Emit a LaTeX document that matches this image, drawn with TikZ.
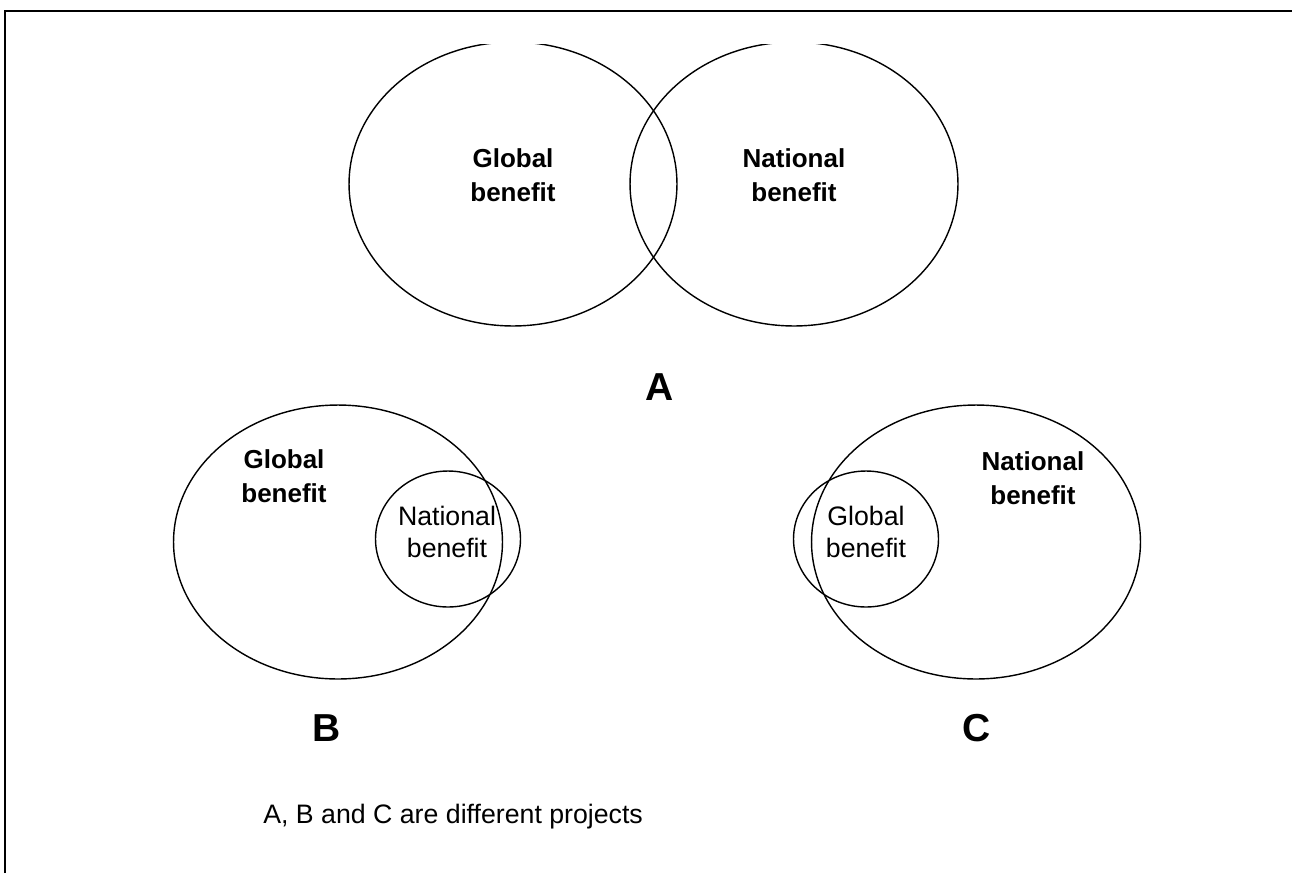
\documentclass[tikz,border=0pt]{standalone}
\usepackage{fontspec}
\setmainfont{Liberation Sans}
\usetikzlibrary{shapes.geometric}
\begin{document}
\begin{tikzpicture}
    [
    x=0.02cm, y=-0.02cm,
    benefit/.style={ellipse,draw,line width=0.8pt,inner sep=0pt},
    tagbold/.style={align=center,font=\bfseries\fontsize{14.8pt}{19.3pt}\selectfont},
    tagplain/.style={align=center,font=\fontsize{15.2pt}{18.6pt}\selectfont},
    letter/.style={anchor=base,font=\bfseries\fontsize{22.2pt}{26pt}\selectfont}
    ]
    \useasboundingbox (0,0) rectangle (1292,873);
    \draw [line width=1.1pt] (5,873) -- (5,11) -- (1292,11);
    % project A
    \begin{scope}
    \clip (0,44) rectangle (1292,873);
    \node (globalA) at (513,184) [benefit,minimum width=6.56cm,minimum height=5.68cm] {};
    \node (nationalA) at (794,184) [benefit,minimum width=6.56cm,minimum height=5.68cm] {};
    \end{scope}
    \node (globalAtext) at (513,175) [tagbold] {Global\\benefit};
    \node (nationalAtext) at (794,175) [tagbold] {National\\benefit};
    \node (A) at (660,400) [letter] {A};
    % project B
    \node (globalB) at (338,542) [benefit,minimum width=6.58cm,minimum height=5.48cm] {};
    \node (nationalB) at (448,539) [benefit,minimum width=2.9cm,minimum height=2.72cm] {};
    \node (globalBtext) at (284,476) [tagbold] {Global\\benefit};
    \node (nationalBtext) at (447,532) [tagplain] {National\\benefit};
    \node (B) at (327,741) [letter] {B};
    % project C
    \node (nationalC) at (976,542) [benefit,minimum width=6.58cm,minimum height=5.48cm] {};
    \node (globalC) at (866,539) [benefit,minimum width=2.9cm,minimum height=2.72cm] {};
    \node (globalCtext) at (866,532) [tagplain] {Global\\benefit};
    \node (nationalCtext) at (1033,478) [tagbold] {National\\benefit};
    \node (C) at (977,741) [letter] {C};
    \node (note) at (263,823) [anchor=base west,inner sep=0pt,font=\fontsize{15.2pt}{18.6pt}\selectfont] {A, B and C are different projects};
  \end{tikzpicture}
\end{document}
